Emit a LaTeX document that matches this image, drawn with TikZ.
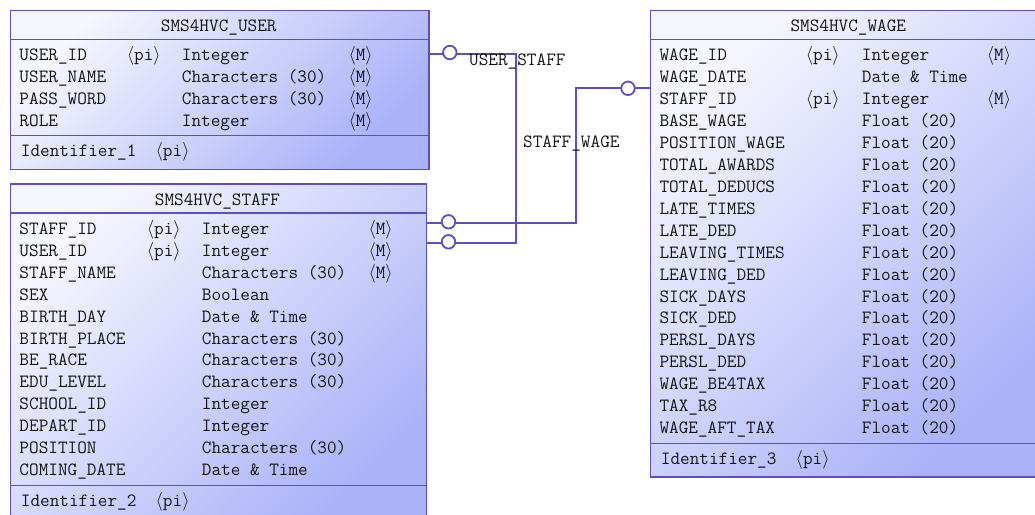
\RequirePackage{fix-cm}
\documentclass[tikz,border=0pt]{standalone}
\usepackage{fontspec}
\usetikzlibrary{calc}
\definecolor{bord}{RGB}{92,78,196}
\definecolor{fillA}{RGB}{246,246,254}
\definecolor{fillB}{RGB}{170,178,248}
\definecolor{txtcol}{RGB}{20,20,20}
\tikzset{
  tbl/.style={draw=bord, line width=1.8pt, rectangle, inner sep=0pt, anchor=north west,
              top color=fillA, bottom color=fillB, shading angle=45},
  sep/.style={draw=bord, line width=1.8pt},
  conn/.style={draw=bord, line width=1.8pt},
  card/.style={circle, draw=bord, fill=white, line width=1.8pt, minimum size=13.5pt, inner sep=0pt},
  txt/.style={anchor=base west, inner sep=0pt, text=txtcol, font=\fontsize{18.7}{22}\selectfont\ttfamily},
  ttl/.style={txt, anchor=base},
}
\newcommand{\pikey}{$\langle$pi$\rangle$}
\newcommand{\mkey}{$\langle$M$\rangle$}
\begin{document}
\begin{tikzpicture}[x=1pt,y=-1pt]
\clip (0,0) rectangle (1035,514);
% ---------- tables ----------
\node[tbl, minimum width=418.5pt, minimum height=159pt] (user) at (9.5,9.5) {};
\node[tbl, minimum width=416pt, minimum height=345pt] (staff) at (9.5,183) {};
\node[tbl, minimum width=397.5pt, minimum height=466.5pt] (wage) at (649.5,9.5) {};
% separators
\draw[sep] (user.west |- 0,39.5) -- (user.east |- 0,39.5);
\draw[sep] (user.west |- 0,135.5) -- (user.east |- 0,135.5);
\draw[sep] (staff.west |- 0,213) -- (staff.east |- 0,213);
\draw[sep] (staff.west |- 0,485.5) -- (staff.east |- 0,485.5);
\draw[sep] (wage.west |- 0,39.5) -- (wage.east |- 0,39.5);
\draw[sep] (wage.west |- 0,443.5) -- (wage.east |- 0,443.5);
% titles
\node[ttl] (user-t) at (218.75,31.5) {SMS4HVC\_USER};
\node[ttl] (staff-t) at (217.5,205) {SMS4HVC\_STAFF};
\node[ttl] (wage-t) at (848.3,31.5) {SMS4HVC\_WAGE};
% USER rows
\foreach \nm/\pk/\ty/\mm [count=\i from 0] in {
  USER\_ID/1/Integer/1,
  USER\_NAME/0/Characters (30)/1,
  PASS\_WORD/0/Characters (30)/1,
  ROLE/0/Integer/1}{
  \node[txt] (u-n\i) at (19.3,{60.7+21.94*\i}) {\nm};
  \if\pk1 \node[txt] (u-p\i) at (126.7,{60.7+21.94*\i}) {\pikey};\fi
  \node[txt] (u-t\i) at (181.7,{60.7+21.94*\i}) {\ty};
  \if\mm1 \node[txt] (u-m\i) at (348.3,{60.7+21.94*\i}) {\mkey};\fi
}
% STAFF rows
\foreach \nm/\pk/\ty/\mm [count=\i from 0] in {
  STAFF\_ID/1/Integer/1,
  USER\_ID/1/Integer/1,
  STAFF\_NAME/0/Characters (30)/1,
  SEX/0/Boolean/0,
  BIRTH\_DAY/0/Date \& Time/0,
  BIRTH\_PLACE/0/Characters (30)/0,
  BE\_RACE/0/Characters (30)/0,
  EDU\_LEVEL/0/Characters (30)/0,
  SCHOOL\_ID/0/Integer/0,
  DEPART\_ID/0/Integer/0,
  POSITION/0/Characters (30)/0,
  COMING\_DATE/0/Date \& Time/0}{
  \node[txt] (s-n\i) at (19.3,{234.3+21.94*\i}) {\nm};
  \if\pk1 \node[txt] (s-p\i) at (146.7,{234.3+21.94*\i}) {\pikey};\fi
  \node[txt] (s-t\i) at (201.7,{234.3+21.94*\i}) {\ty};
  \if\mm1 \node[txt] (s-m\i) at (368.3,{234.3+21.94*\i}) {\mkey};\fi
}
% WAGE rows
\foreach \nm/\pk/\ty/\mm [count=\i from 0] in {
  WAGE\_ID/1/Integer/1,
  WAGE\_DATE/0/Date \& Time/0,
  STAFF\_ID/1/Integer/1,
  BASE\_WAGE/0/Float (20)/0,
  POSITION\_WAGE/0/Float (20)/0,
  TOTAL\_AWARDS/0/Float (20)/0,
  TOTAL\_DEDUCS/0/Float (20)/0,
  LATE\_TIMES/0/Float (20)/0,
  LATE\_DED/0/Float (20)/0,
  LEAVING\_TIMES/0/Float (20)/0,
  LEAVING\_DED/0/Float (20)/0,
  SICK\_DAYS/0/Float (20)/0,
  SICK\_DED/0/Float (20)/0,
  PERSL\_DAYS/0/Float (20)/0,
  PERSL\_DED/0/Float (20)/0,
  WAGE\_BE4TAX/0/Float (20)/0,
  TAX\_R8/0/Float (20)/0,
  WAGE\_AFT\_TAX/0/Float (20)/0}{
  \node[txt] (w-n\i) at (659.3,{60.7+21.94*\i}) {\nm};
  \if\pk1 \node[txt] (w-p\i) at (805.7,{60.7+21.94*\i}) {\pikey};\fi
  \node[txt] (w-t\i) at (861.7,{60.7+21.94*\i}) {\ty};
  \if\mm1 \node[txt] (w-m\i) at (986.7,{60.7+21.94*\i}) {\mkey};\fi
}
% identifiers
\node[txt] (u-id) at (20.7,156.5) {Identifier\_1\ \ \pikey};
\node[txt] (s-id) at (20.7,506.5) {Identifier\_2\ \ \pikey};
\node[txt] (w-id) at (660.7,464) {Identifier\_3\ \ \pikey};
% ---------- connectors ----------
\coordinate (ua) at (user.east |- 0,54);
\coordinate (sa1) at (staff.east |- 0,223.3);
\coordinate (sa2) at (staff.east |- 0,243.3);
\coordinate (wa) at (wage.west |- 0,88.3);
\draw[conn] (ua) -- ++(86,0) |- (sa2);
\draw[conn] (sa1) -- ++(148.5,0) |- (wa);
\node[card] (c1) at ($(ua)+(20,-1.5)$) {};
\node[card] (c2) at ($(sa1)+(21.2,-1.5)$) {};
\node[card] (c3) at ($(sa2)+(21.2,-1.5)$) {};
\node[card] (c4) at ($(wa)+(-21.5,0)$) {};
% labels
\node[txt] (l1) at (469,65) {USER\_STAFF};
\node[txt] (l2) at (523,147) {STAFF\_WAGE};
\end{tikzpicture}
\end{document}
